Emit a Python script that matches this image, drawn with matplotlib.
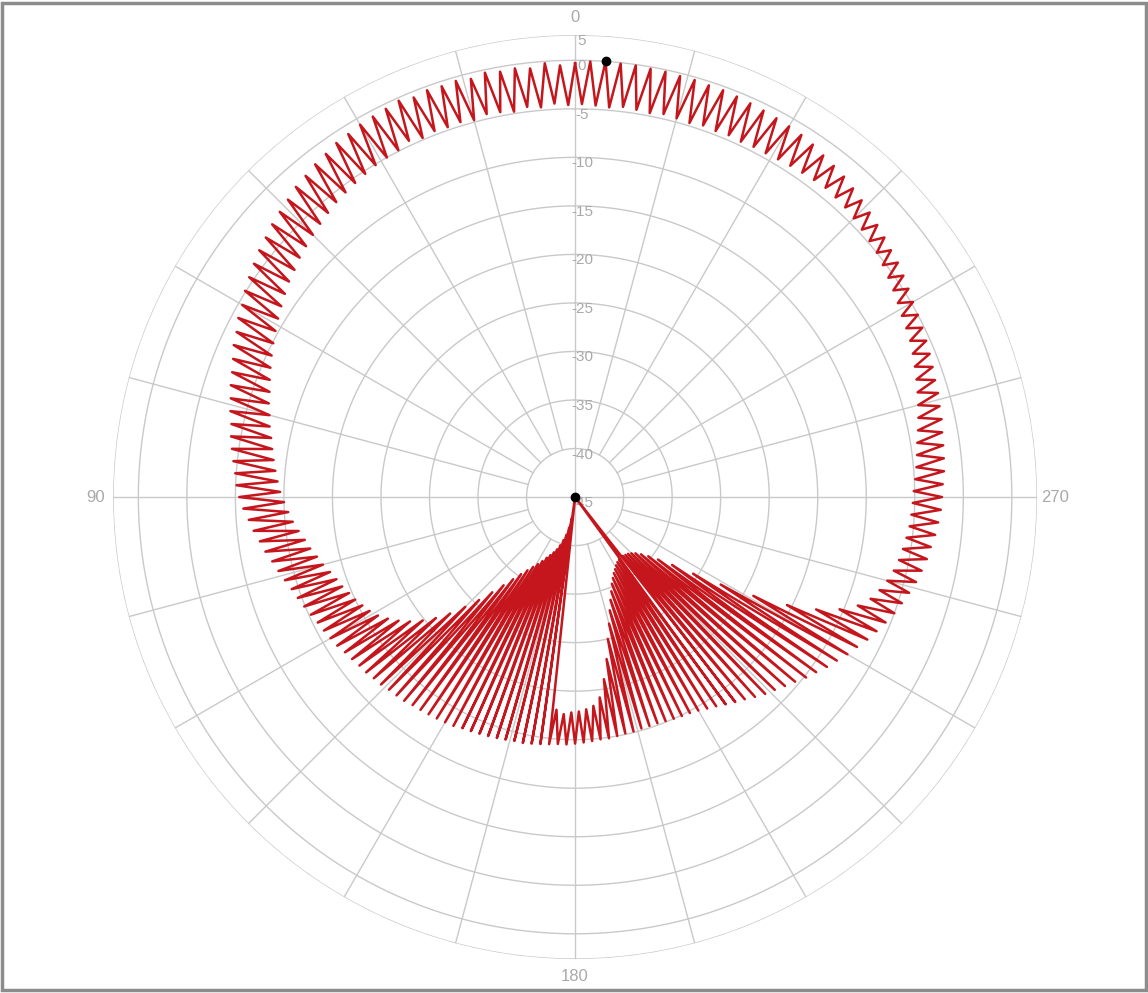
import numpy as np
import matplotlib.pyplot as plt
from matplotlib.patches import Rectangle

# measured pattern, 1 degree steps: peaks on even angles, dips on odd angles (dB)
hi_db = [
    -0.3, -0.5, -0.2, -0.6, -0.4, -0.5, -0.3, -0.6, -0.4, -0.5,
    -0.4, -0.6, -0.3, -0.5, -0.6, -0.7, -0.9, -1.0, -1.3, -1.5,
    -1.8, -2.0, -2.4, -2.7, -3.0, -3.4, -3.7, -4.1, -4.5, -4.9,
    -5.4, -5.7, -6.2, -6.5, -7.0, -7.4, -7.7, -8.1, -8.4, -8.8,
    -9.0, -9.3, -9.6, -9.9, -10.1, -10.4, -10.8, -11.3, -11.7, -12.2,
    -12.6, -13.1, -13.5, -13.9, -14.3, -14.6, -14.9, -15.2, -15.5, -15.7,
    -15.9, -16.1, -16.4, -16.6, -16.8, -16.9, -17.1, -17.2, -17.4, -17.5,
    -17.6, -17.8, -17.9, -18.0, -18.1, -18.2, -18.3, -18.5, -18.6, -18.7,
    -18.8, -18.9, -19.0, -19.1, -19.1, -19.2, -19.3, -19.4, -19.5, -19.5,
    -19.6, -19.7, -19.8, -19.9, -19.9, -20.0, -20.1, -20.1, -20.2, -20.2,
    -20.2, -20.1, -20.0, -19.9, -19.8, -19.6, -19.3, -19.0, -18.6, -18.2,
    -17.8, -17.3, -16.8, -16.4, -15.9, -15.4, -14.8, -14.3, -13.7, -13.2,
    -12.6, -12.1, -11.5, -11.0, -10.5, -10.0, -9.6, -9.2, -8.8, -8.5,
    -8.2, -8.0, -7.7, -7.5, -7.3, -7.2, -7.1, -6.9, -6.8, -6.7,
    -6.6, -6.4, -6.3, -6.1, -6.0, -5.8, -5.6, -5.4, -5.2, -5.0,
    -4.8, -4.5, -4.2, -3.9, -3.7, -3.4, -3.1, -2.8, -2.5, -2.2,
    -1.9, -1.7, -1.5, -1.2, -1.0, -0.9, -0.8, -0.7, -0.6, -0.5,
    -0.4, -0.4, -0.3, -0.3, -0.2, -0.2, -0.1, -0.1, 0.0, -0.1,
]
lo_db = [
    -4.6, -4.4, -4.7, -4.5, -4.8, -4.6, -4.5, -4.8, -4.6, -4.7,
    -4.6, -4.8, -4.5, -4.9, -5.0, -5.1, -5.3, -5.5, -5.7, -5.9,
    -6.2, -6.5, -6.8, -7.1, -7.4, -7.8, -8.1, -8.5, -8.9, -9.3,
    -9.7, -10.1, -10.5, -10.9, -11.3, -11.7, -12.0, -12.4, -12.7, -13.1,
    -13.4, -13.7, -14.0, -14.3, -14.6, -15.0, -15.4, -15.8, -16.3, -16.8,
    -17.2, -17.7, -18.1, -18.6, -19.0, -19.3, -19.7, -20.0, -20.4, -20.8,
    -21.3, -22.0, -22.8, -23.7, -24.8, -26.0, -27.4, -29.0, -30.5, -32.0,
    -33.3, -34.4, -35.3, -36.0, -36.6, -37.1, -37.6, -38.1, -38.5, -38.9,
    -39.3, -39.8, -40.4, -41.0, -41.8, -42.8, -45.0, -23.0, -22.6, -22.8,
    -22.9, -23.1, -23.4, -24.2, -26.0, -28.0, -30.0, -31.5, -32.8, -33.8,
    -34.6, -35.3, -35.8, -36.2, -36.5, -36.8, -37.0, -37.1, -45.0, -37.2,
    -37.1, -37.0, -36.8, -36.5, -36.0, -35.3, -34.3, -32.8, -30.5, -27.5,
    -24.0, -20.5, -17.6, -15.4, -13.8, -12.8, -12.2, -11.7, -11.3, -11.0,
    -10.8, -10.6, -10.4, -10.3, -10.2, -10.1, -9.9, -9.7, -9.5, -9.3,
    -9.0, -8.7, -8.4, -8.1, -7.8, -7.5, -7.2, -6.9, -6.7, -6.5,
    -6.2, -5.9, -5.6, -5.3, -5.0, -4.8, -4.6, -4.4, -4.2, -4.1,
    -4.0, -4.1, -4.2, -4.3, -4.4, -4.5, -4.5, -4.6, -4.5, -4.6,
    -4.5, -4.7, -4.6, -4.5, -4.7, -4.6, -4.5, -4.7, -4.6, -4.5,
]
hi_deg = np.arange(0, 360, 2)
lo_deg = hi_deg + 1

ring_db = [-40, -35, -30, -25, -20, -15, -10, -5, 0]
ring_labels = ["-40", "-35", "-30", "-25", "-20", "-15", "-10", "-5", "0"]
r_min, r_max = -45, 2.6
angle_labels = {0: "0", 90: "90", 180: "180", 270: "270"}

GRID = "#c9c9c9"
TXT = "#a9a9a9"

# interleave peaks and dips into one closed trace
deg = np.empty(len(hi_deg) * 2)
deg[0::2], deg[1::2] = hi_deg, lo_deg
val = np.empty(len(hi_db) * 2)
val[0::2], val[1::2] = hi_db, lo_db
deg = np.append(deg, deg[0])
val = np.append(val, val[0])

fig = plt.figure(figsize=(11.48, 9.93), dpi=100)
ax = fig.add_axes([0.0985, 0.0342, 0.8049, 0.9305], projection="polar")
ax.set_theta_zero_location("N")
ax.set_theta_direction(1)
ax.set_rlim(r_min, r_max)
ax.grid(False)
ax.set_xticks([])
ax.set_yticks([])
ax.spines["polar"].set_visible(False)

# rings
circ = np.linspace(0, 2 * np.pi, 721)
for v in ring_db + [r_max]:
    ax.plot(circ, np.full_like(circ, v), color=GRID, lw=1.0, zorder=1)

# spokes every 15 degrees, main axes run to the centre
for a in range(0, 360, 15):
    start = r_min if a % 90 == 0 else ring_db[0]
    ax.plot([np.deg2rad(a)] * 2, [start, r_max], color=GRID, lw=1.0, zorder=1)

for v, lab in zip([r_min] + ring_db + [r_max], ["-45"] + ring_labels + ["5"]):
    ax.annotate(lab, xy=(0, v), xytext=(7, -6), textcoords="offset pixels",
                ha="center", va="center", color=TXT, fontsize=11,
                family="Liberation Sans", zorder=2)

for a, lab in angle_labels.items():
    ax.text(np.deg2rad(a), 4.45, lab, ha="center", va="center", color=TXT,
            fontsize=12, family="Liberation Sans")

ax.plot(np.deg2rad(deg), val, color="#c4161c", lw=1.8, zorder=3,
        solid_joinstyle="round")

imax = int(np.argmax(hi_db))
ax.plot(np.deg2rad(hi_deg[imax]), hi_db[imax], "o", color="black", ms=6, zorder=4)
ax.plot(0, r_min, "o", color="black", ms=6, zorder=4)

fig.patches.append(Rectangle((0.002, 0.003), 0.996, 0.994, transform=fig.transFigure,
                             fill=False, edgecolor="#8c8c8c", lw=2.5))

fig.savefig("out.png", dpi=100)
